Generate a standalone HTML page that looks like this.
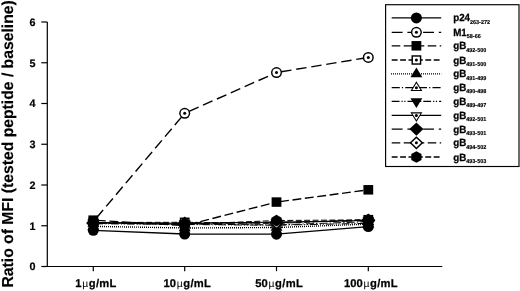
<!DOCTYPE html>
<html><head><meta charset="utf-8"><title>chart</title>
<style>
html,body{margin:0;padding:0;background:#fff;}
body{width:520px;height:291px;overflow:hidden;font-family:"Liberation Sans",sans-serif;}
svg{display:block;will-change:transform;filter:grayscale(1);}
text{font-family:"Liberation Sans",sans-serif;font-weight:bold;fill:#000;text-rendering:geometricPrecision;}
</style></head><body>
<svg width="520" height="291" viewBox="0 0 520 291">

<g stroke="#000" stroke-width="1.2" fill="none">
<path d="M47.3 22.0 V266.5 H442.3"/>
<path d="M41.3 266.5 H47.3"/>
<path d="M41.3 225.75 H47.3"/>
<path d="M41.3 185.0 H47.3"/>
<path d="M41.3 144.25 H47.3"/>
<path d="M41.3 103.5 H47.3"/>
<path d="M41.3 62.75 H47.3"/>
<path d="M41.3 22.0 H47.3"/>
<path d="M93.3 266.5 V271.2"/>
<path d="M184.7 266.5 V271.2"/>
<path d="M276.5 266.5 V271.2"/>
<path d="M368.3 266.5 V271.2"/>
</g>
<text x="35.6" y="270.40" font-size="10.8" text-anchor="end" stroke="#000" stroke-width="0.2">0</text>
<text x="35.6" y="229.65" font-size="10.8" text-anchor="end" stroke="#000" stroke-width="0.2">1</text>
<text x="35.6" y="188.90" font-size="10.8" text-anchor="end" stroke="#000" stroke-width="0.2">2</text>
<text x="35.6" y="148.15" font-size="10.8" text-anchor="end" stroke="#000" stroke-width="0.2">3</text>
<text x="35.6" y="107.40" font-size="10.8" text-anchor="end" stroke="#000" stroke-width="0.2">4</text>
<text x="35.6" y="66.65" font-size="10.8" text-anchor="end" stroke="#000" stroke-width="0.2">5</text>
<text x="35.6" y="25.90" font-size="10.8" text-anchor="end" stroke="#000" stroke-width="0.2">6</text>
<text x="96.0" y="287.3" font-size="11.2" text-anchor="middle" stroke="#000" stroke-width="0.25"><tspan letter-spacing="0.05">1</tspan><tspan font-weight="normal" font-size="10.4" dx="0.7" stroke="none">µ</tspan><tspan dx="0.5" letter-spacing="0.3">g/mL</tspan></text>
<text x="187.4" y="287.3" font-size="11.2" text-anchor="middle" stroke="#000" stroke-width="0.25"><tspan letter-spacing="0.05">10</tspan><tspan font-weight="normal" font-size="10.4" dx="0.7" stroke="none">µ</tspan><tspan dx="0.5" letter-spacing="0.3">g/mL</tspan></text>
<text x="279.2" y="287.3" font-size="11.2" text-anchor="middle" stroke="#000" stroke-width="0.25"><tspan letter-spacing="0.05">50</tspan><tspan font-weight="normal" font-size="10.4" dx="0.7" stroke="none">µ</tspan><tspan dx="0.5" letter-spacing="0.3">g/mL</tspan></text>
<text x="371.0" y="287.3" font-size="11.2" text-anchor="middle" stroke="#000" stroke-width="0.25"><tspan letter-spacing="0.05">100</tspan><tspan font-weight="normal" font-size="10.4" dx="0.7" stroke="none">µ</tspan><tspan dx="0.5" letter-spacing="0.3">g/mL</tspan></text>
<text transform="translate(13.1,143.9) rotate(-90) scale(0.989,1)" font-size="15.9" text-anchor="middle" stroke="#000" stroke-width="0.15">Ratio of MFI (tested peptide / baseline)</text>
<polyline points="93.3,230.31 184.7,234.02 276.5,234.19 368.3,226.61" fill="none" stroke="#000" stroke-width="1.3"/>
<line x1="93.3" y1="221.68" x2="184.7" y2="113.28" stroke="#000" stroke-width="1.4" stroke-dasharray="10.4 4.8" stroke-dashoffset="10.40"/>
<line x1="184.7" y1="113.28" x2="276.5" y2="72.53" stroke="#000" stroke-width="1.4" stroke-dasharray="10.4 4.8" stroke-dashoffset="10.40"/>
<line x1="276.5" y1="72.53" x2="368.3" y2="57.45" stroke="#000" stroke-width="1.4" stroke-dasharray="10.4 4.8" stroke-dashoffset="10.40"/>
<line x1="93.3" y1="220.17" x2="184.7" y2="225.55" stroke="#000" stroke-width="1.4" stroke-dasharray="8.9 3.6" stroke-dashoffset="8.90"/>
<line x1="184.7" y1="225.55" x2="276.5" y2="202.07" stroke="#000" stroke-width="1.4" stroke-dasharray="8.9 3.6" stroke-dashoffset="8.90"/>
<line x1="276.5" y1="202.07" x2="368.3" y2="189.81" stroke="#000" stroke-width="1.4" stroke-dasharray="8.9 3.6" stroke-dashoffset="8.90"/>
<line x1="93.3" y1="222.49" x2="184.7" y2="222.29" stroke="#000" stroke-width="1.0" stroke-dasharray="5.9 2.5" stroke-dashoffset="5.90"/>
<line x1="184.7" y1="222.29" x2="276.5" y2="223.39" stroke="#000" stroke-width="1.0" stroke-dasharray="5.9 2.5" stroke-dashoffset="5.90"/>
<line x1="276.5" y1="223.39" x2="368.3" y2="219.64" stroke="#000" stroke-width="1.0" stroke-dasharray="5.9 2.5" stroke-dashoffset="5.90"/>
<line x1="93.3" y1="226.36" x2="184.7" y2="227.99" stroke="#000" stroke-width="1.4" stroke-dasharray="1 1" stroke-dashoffset="1.30"/>
<line x1="184.7" y1="227.99" x2="276.5" y2="227.5" stroke="#000" stroke-width="1.4" stroke-dasharray="1 1" stroke-dashoffset="0.70"/>
<line x1="276.5" y1="227.5" x2="368.3" y2="224.12" stroke="#000" stroke-width="1.4" stroke-dasharray="1 1" stroke-dashoffset="0.50"/>
<line x1="93.3" y1="223.31" x2="184.7" y2="224.12" stroke="#000" stroke-width="1.0" stroke-dasharray="8.1 2.1 1.2 2.2" stroke-dashoffset="11.40"/>
<line x1="184.7" y1="224.12" x2="276.5" y2="224.94" stroke="#000" stroke-width="1.0" stroke-dasharray="8.1 2.1 1.2 2.2" stroke-dashoffset="11.40"/>
<line x1="276.5" y1="224.94" x2="368.3" y2="221.68" stroke="#000" stroke-width="1.0" stroke-dasharray="8.1 2.1 1.2 2.2" stroke-dashoffset="11.40"/>
<line x1="93.3" y1="223.71" x2="184.7" y2="224.53" stroke="#000" stroke-width="1.0" stroke-dasharray="7.8 2 1.2 1.6 1.2 2" stroke-dashoffset="13.80"/>
<line x1="184.7" y1="224.53" x2="276.5" y2="225.22" stroke="#000" stroke-width="1.0" stroke-dasharray="7.8 2 1.2 1.6 1.2 2" stroke-dashoffset="13.80"/>
<line x1="276.5" y1="225.22" x2="368.3" y2="223.31" stroke="#000" stroke-width="1.0" stroke-dasharray="7.8 2 1.2 1.6 1.2 2" stroke-dashoffset="13.80"/>
<polyline points="93.3,222.49 184.7,223.31 276.5,222.2 368.3,220.45" fill="none" stroke="#000" stroke-width="1.0"/>
<line x1="93.3" y1="222.9" x2="184.7" y2="223.1" stroke="#000" stroke-width="1.0" stroke-dasharray="10.4 4.8" stroke-dashoffset="10.40"/>
<line x1="184.7" y1="223.1" x2="276.5" y2="222.2" stroke="#000" stroke-width="1.0" stroke-dasharray="10.4 4.8" stroke-dashoffset="10.40"/>
<line x1="276.5" y1="222.2" x2="368.3" y2="220.86" stroke="#000" stroke-width="1.0" stroke-dasharray="10.4 4.8" stroke-dashoffset="10.40"/>
<line x1="93.3" y1="223.31" x2="184.7" y2="223.71" stroke="#000" stroke-width="1.0" stroke-dasharray="8.9 3.6" stroke-dashoffset="8.90"/>
<line x1="184.7" y1="223.71" x2="276.5" y2="222.9" stroke="#000" stroke-width="1.0" stroke-dasharray="8.9 3.6" stroke-dashoffset="8.90"/>
<line x1="276.5" y1="222.9" x2="368.3" y2="220.05" stroke="#000" stroke-width="1.0" stroke-dasharray="8.9 3.6" stroke-dashoffset="8.90"/>
<line x1="93.3" y1="222.69" x2="184.7" y2="224.32" stroke="#000" stroke-width="1.0" stroke-dasharray="5.9 2.5" stroke-dashoffset="5.90"/>
<line x1="184.7" y1="224.32" x2="276.5" y2="220.53" stroke="#000" stroke-width="1.0" stroke-dasharray="5.9 2.5" stroke-dashoffset="5.90"/>
<line x1="276.5" y1="220.53" x2="368.3" y2="219.84" stroke="#000" stroke-width="1.0" stroke-dasharray="5.9 2.5" stroke-dashoffset="5.90"/>
<circle cx="93.3" cy="230.31" r="5.5" fill="#000"/>
<circle cx="184.7" cy="234.02" r="5.5" fill="#000"/>
<circle cx="276.5" cy="234.19" r="5.5" fill="#000"/>
<circle cx="368.3" cy="226.61" r="5.5" fill="#000"/>
<circle cx="93.3" cy="221.68" r="5.5" fill="#000"/><circle cx="93.3" cy="221.68" r="4.05" fill="#fff"/><circle cx="93.3" cy="221.68" r="1.5" fill="#000"/>
<circle cx="184.7" cy="113.28" r="5.5" fill="#000"/><circle cx="184.7" cy="113.28" r="4.05" fill="#fff"/><circle cx="184.7" cy="113.28" r="1.5" fill="#000"/>
<circle cx="276.5" cy="72.53" r="5.5" fill="#000"/><circle cx="276.5" cy="72.53" r="4.05" fill="#fff"/><circle cx="276.5" cy="72.53" r="1.5" fill="#000"/>
<circle cx="368.3" cy="57.45" r="5.5" fill="#000"/><circle cx="368.3" cy="57.45" r="4.05" fill="#fff"/><circle cx="368.3" cy="57.45" r="1.5" fill="#000"/>
<rect x="88.40" y="215.42" width="9.8" height="9.5" fill="#000"/>
<rect x="179.80" y="220.80" width="9.8" height="9.5" fill="#000"/>
<rect x="271.60" y="197.32" width="9.8" height="9.5" fill="#000"/>
<rect x="363.40" y="185.06" width="9.8" height="9.5" fill="#000"/>
<rect x="88.40" y="217.74" width="9.8" height="9.5" fill="#000"/><rect x="89.85" y="219.19" width="6.90" height="6.60" fill="#fff"/><circle cx="93.3" cy="222.49" r="1.5" fill="#000"/>
<rect x="179.80" y="217.54" width="9.8" height="9.5" fill="#000"/><rect x="181.25" y="218.99" width="6.90" height="6.60" fill="#fff"/><circle cx="184.7" cy="222.29" r="1.5" fill="#000"/>
<rect x="271.60" y="218.64" width="9.8" height="9.5" fill="#000"/><rect x="273.05" y="220.09" width="6.90" height="6.60" fill="#fff"/><circle cx="276.5" cy="223.39" r="1.5" fill="#000"/>
<rect x="363.40" y="214.89" width="9.8" height="9.5" fill="#000"/><rect x="364.85" y="216.34" width="6.90" height="6.60" fill="#fff"/><circle cx="368.3" cy="219.64" r="1.5" fill="#000"/>
<polygon points="93.30,219.96 99.25,229.71 87.35,229.71" fill="#000"/>
<polygon points="184.70,221.59 190.65,231.34 178.75,231.34" fill="#000"/>
<polygon points="276.50,221.10 282.45,230.85 270.55,230.85" fill="#000"/>
<polygon points="368.30,217.72 374.25,227.47 362.35,227.47" fill="#000"/>
<polygon points="93.30,216.91 99.25,226.66 87.35,226.66" fill="#000"/><polygon points="93.30,218.93 97.38,225.61 89.22,225.61" fill="#fff"/><circle cx="93.3" cy="223.31" r="1.5" fill="#000"/>
<polygon points="184.70,217.72 190.65,227.47 178.75,227.47" fill="#000"/><polygon points="184.70,219.74 188.78,226.42 180.62,226.42" fill="#fff"/><circle cx="184.7" cy="224.12" r="1.5" fill="#000"/>
<polygon points="276.50,218.54 282.45,228.29 270.55,228.29" fill="#000"/><polygon points="276.50,220.56 280.58,227.24 272.42,227.24" fill="#fff"/><circle cx="276.5" cy="224.94" r="1.5" fill="#000"/>
<polygon points="368.30,215.28 374.25,225.03 362.35,225.03" fill="#000"/><polygon points="368.30,217.30 372.38,223.98 364.22,223.98" fill="#fff"/><circle cx="368.3" cy="221.68" r="1.5" fill="#000"/>
<polygon points="93.30,230.41 99.25,220.66 87.35,220.66" fill="#000"/>
<polygon points="184.70,231.23 190.65,221.48 178.75,221.48" fill="#000"/>
<polygon points="276.50,231.92 282.45,222.17 270.55,222.17" fill="#000"/>
<polygon points="368.30,230.01 374.25,220.26 362.35,220.26" fill="#000"/>
<polygon points="93.30,229.19 99.25,219.44 87.35,219.44" fill="#000"/><polygon points="93.30,227.17 97.38,220.49 89.22,220.49" fill="#fff"/><circle cx="93.3" cy="222.49" r="1.5" fill="#000"/>
<polygon points="184.70,230.01 190.65,220.26 178.75,220.26" fill="#000"/><polygon points="184.70,227.99 188.78,221.31 180.62,221.31" fill="#fff"/><circle cx="184.7" cy="223.31" r="1.5" fill="#000"/>
<polygon points="276.50,228.90 282.45,219.15 270.55,219.15" fill="#000"/><polygon points="276.50,226.88 280.58,220.20 272.42,220.20" fill="#fff"/><circle cx="276.5" cy="222.2" r="1.5" fill="#000"/>
<polygon points="368.30,227.15 374.25,217.40 362.35,217.40" fill="#000"/><polygon points="368.30,225.13 372.38,218.45 364.22,218.45" fill="#fff"/><circle cx="368.3" cy="220.45" r="1.5" fill="#000"/>
<polygon points="93.30,216.30 100.30,222.90 93.30,229.50 86.30,222.90" fill="#000"/>
<polygon points="184.70,216.50 191.70,223.10 184.70,229.70 177.70,223.10" fill="#000"/>
<polygon points="276.50,215.60 283.50,222.20 276.50,228.80 269.50,222.20" fill="#000"/>
<polygon points="368.30,214.26 375.30,220.86 368.30,227.46 361.30,220.86" fill="#000"/>
<polygon points="93.30,216.71 100.30,223.31 93.30,229.91 86.30,223.31" fill="#000"/><polygon points="93.30,218.71 98.18,223.31 93.30,227.91 88.42,223.31" fill="#fff"/><circle cx="93.3" cy="223.31" r="1.5" fill="#000"/>
<polygon points="184.70,217.11 191.70,223.71 184.70,230.31 177.70,223.71" fill="#000"/><polygon points="184.70,219.11 189.58,223.71 184.70,228.31 179.82,223.71" fill="#fff"/><circle cx="184.7" cy="223.71" r="1.5" fill="#000"/>
<polygon points="276.50,216.30 283.50,222.90 276.50,229.50 269.50,222.90" fill="#000"/><polygon points="276.50,218.30 281.38,222.90 276.50,227.50 271.62,222.90" fill="#fff"/><circle cx="276.5" cy="222.9" r="1.5" fill="#000"/>
<polygon points="368.30,213.45 375.30,220.05 368.30,226.65 361.30,220.05" fill="#000"/><polygon points="368.30,215.45 373.18,220.05 368.30,224.65 363.42,220.05" fill="#fff"/><circle cx="368.3" cy="220.05" r="1.5" fill="#000"/>
<polygon points="93.30,216.84 98.40,219.79 98.40,225.59 93.30,228.54 88.20,225.59 88.20,219.79" fill="#000"/>
<polygon points="184.70,218.47 189.80,221.42 189.80,227.22 184.70,230.17 179.60,227.22 179.60,221.42" fill="#000"/>
<polygon points="276.50,214.68 281.60,217.63 281.60,223.43 276.50,226.38 271.40,223.43 271.40,217.63" fill="#000"/>
<polygon points="368.30,213.99 373.40,216.94 373.40,222.74 368.30,225.69 363.20,222.74 363.20,216.94" fill="#000"/>
<rect x="385.6" y="4.7" width="133.4" height="161.8" fill="#fff" stroke="#000" stroke-width="1.15"/>
<path d="M391.7 17.9 H441.2" stroke="#000" stroke-width="1.3" fill="none"/>
<circle cx="416.4" cy="17.9" r="5.5" fill="#000"/>
<text transform="translate(453.2,21.4) scale(0.94,1)" font-size="10.4" stroke="#000" stroke-width="0.25">p24<tspan font-size="5.8" dy="2.2" stroke-width="0.15">263-272</tspan></text>
<path d="M391.7 32.3 H441.2" stroke="#000" stroke-width="1.3" fill="none" stroke-dasharray="10.9 4.8"/>
<circle cx="416.4" cy="32.3" r="5.5" fill="#000"/><circle cx="416.4" cy="32.3" r="4.05" fill="#fff"/><circle cx="416.4" cy="32.3" r="1.5" fill="#000"/>
<text transform="translate(453.2,35.8) scale(0.94,1)" font-size="10.4" stroke="#000" stroke-width="0.25">M1<tspan font-size="5.8" dy="2.2" stroke-width="0.15">58-66</tspan></text>
<path d="M391.7 45.8 H441.2" stroke="#000" stroke-width="1.3" fill="none" stroke-dasharray="8.6 3.4"/>
<rect x="411.50" y="41.05" width="9.8" height="9.5" fill="#000"/>
<text transform="translate(453.2,49.3) scale(0.94,1)" font-size="10.4" stroke="#000" stroke-width="0.25">gB<tspan font-size="5.8" dy="2.2" stroke-width="0.15">492-500</tspan></text>
<path d="M391.7 60.0 H441.2" stroke="#000" stroke-width="1.3" fill="none" stroke-dasharray="5.9 2.5"/>
<rect x="411.50" y="55.25" width="9.8" height="9.5" fill="#000"/><rect x="412.95" y="56.70" width="6.90" height="6.60" fill="#fff"/><circle cx="416.4" cy="60.0" r="1.5" fill="#000"/>
<text transform="translate(453.2,63.5) scale(0.94,1)" font-size="10.4" stroke="#000" stroke-width="0.25">gB<tspan font-size="5.8" dy="2.2" stroke-width="0.15">491-500</tspan></text>
<path d="M391 73.8 H441.2" stroke="#000" stroke-width="1.3" fill="none" stroke-dasharray="1 1"/>
<polygon points="416.40,67.40 422.35,77.15 410.45,77.15" fill="#000"/>
<text transform="translate(453.2,77.3) scale(0.94,1)" font-size="10.4" stroke="#000" stroke-width="0.25">gB<tspan font-size="5.8" dy="2.2" stroke-width="0.15">491-499</tspan></text>
<path d="M391.7 87.7 H441.2" stroke="#000" stroke-width="1.3" fill="none" stroke-dasharray="8.1 2.1 1.2 2.2"/>
<polygon points="416.40,81.30 422.35,91.05 410.45,91.05" fill="#000"/><polygon points="416.40,83.32 420.48,90.00 412.32,90.00" fill="#fff"/><circle cx="416.4" cy="87.7" r="1.5" fill="#000"/>
<text transform="translate(453.2,91.2) scale(0.94,1)" font-size="10.4" stroke="#000" stroke-width="0.25">gB<tspan font-size="5.8" dy="2.2" stroke-width="0.15">490-498</tspan></text>
<path d="M391.7 101.3 H441.2" stroke="#000" stroke-width="1.3" fill="none" stroke-dasharray="7.8 2 1.2 1.6 1.2 2"/>
<polygon points="416.40,108.00 422.35,98.25 410.45,98.25" fill="#000"/>
<text transform="translate(453.2,104.8) scale(0.94,1)" font-size="10.4" stroke="#000" stroke-width="0.25">gB<tspan font-size="5.8" dy="2.2" stroke-width="0.15">489-497</tspan></text>
<path d="M391.7 115.4 H441.2" stroke="#000" stroke-width="1.3" fill="none"/>
<polygon points="416.40,122.10 422.35,112.35 410.45,112.35" fill="#000"/><polygon points="416.40,120.08 420.48,113.40 412.32,113.40" fill="#fff"/><circle cx="416.4" cy="115.4" r="1.5" fill="#000"/>
<text transform="translate(453.2,118.9) scale(0.94,1)" font-size="10.4" stroke="#000" stroke-width="0.25">gB<tspan font-size="5.8" dy="2.2" stroke-width="0.15">492-501</tspan></text>
<path d="M391.7 129.1 H441.2" stroke="#000" stroke-width="1.3" fill="none" stroke-dasharray="10.9 4.8"/>
<polygon points="416.40,122.50 423.40,129.10 416.40,135.70 409.40,129.10" fill="#000"/>
<text transform="translate(453.2,132.6) scale(0.94,1)" font-size="10.4" stroke="#000" stroke-width="0.25">gB<tspan font-size="5.8" dy="2.2" stroke-width="0.15">493-501</tspan></text>
<path d="M391.7 142.8 H441.2" stroke="#000" stroke-width="1.3" fill="none" stroke-dasharray="8.6 3.4"/>
<polygon points="416.40,136.20 423.40,142.80 416.40,149.40 409.40,142.80" fill="#000"/><polygon points="416.40,138.20 421.28,142.80 416.40,147.40 411.52,142.80" fill="#fff"/><circle cx="416.4" cy="142.8" r="1.5" fill="#000"/>
<text transform="translate(453.2,146.3) scale(0.94,1)" font-size="10.4" stroke="#000" stroke-width="0.25">gB<tspan font-size="5.8" dy="2.2" stroke-width="0.15">494-502</tspan></text>
<path d="M391.7 157.0 H441.2" stroke="#000" stroke-width="1.3" fill="none" stroke-dasharray="5.9 2.5"/>
<polygon points="416.40,151.15 421.50,154.10 421.50,159.90 416.40,162.85 411.30,159.90 411.30,154.10" fill="#000"/>
<text transform="translate(453.2,160.5) scale(0.94,1)" font-size="10.4" stroke="#000" stroke-width="0.25">gB<tspan font-size="5.8" dy="2.2" stroke-width="0.15">493-503</tspan></text>
</svg></body></html>
